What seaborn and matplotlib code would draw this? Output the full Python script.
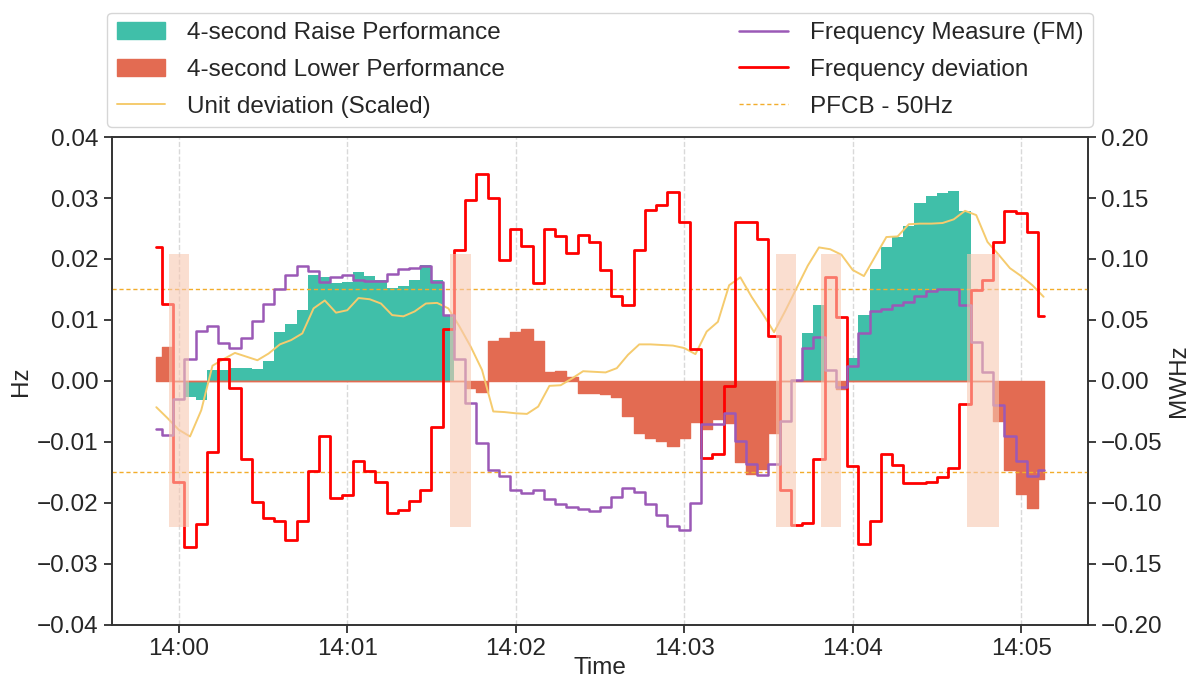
import numpy as np
import pandas as pd
import matplotlib
matplotlib.use("Agg")
import matplotlib.pyplot as plt
import matplotlib.dates as mdates
from matplotlib.patches import Patch
from matplotlib.lines import Line2D
import seaborn as sns

# 4 second samples from 13:59:52 to 14:05:08
times = pd.date_range("2024-01-01 13:59:52", periods=80, freq="4s")

# frequency deviation (Hz)
freq_dev = [0.0219, 0.0126, -0.0165, -0.0273, -0.0234, -0.0116, 0.0036, -0.0011, -0.0128, -0.0198,
            -0.0225, -0.0229, -0.0261, -0.0229, -0.0148, -0.0090, -0.0192, -0.0187, -0.0132, -0.0148,
            -0.0165, -0.0217, -0.0211, -0.0196, -0.0178, -0.0075, 0.0086, 0.0214, 0.0296, 0.0340,
            0.0300, 0.0199, 0.0250, 0.0221, 0.0161, 0.0250, 0.0238, 0.0210, 0.0239, 0.0228,
            0.0182, 0.0139, 0.0125, 0.0214, 0.0280, 0.0289, 0.0310, 0.0261, 0.0052, -0.0126,
            -0.0120, -0.0008, 0.0260, 0.0260, 0.0232, 0.0073, -0.0178, -0.0236, -0.0233, -0.0128,
            0.0170, 0.0105, -0.0139, -0.0267, -0.0229, -0.0120, -0.0138, -0.0167, -0.0167, -0.0165,
            -0.0158, -0.0143, -0.0037, 0.0149, 0.0166, 0.0228, 0.0279, 0.0276, 0.0245, 0.0107]

# frequency measure (MWHz)
fm = [-0.039, -0.044, -0.015, 0.018, 0.041, 0.045, 0.031, 0.027, 0.035, 0.049,
      0.063, 0.075, 0.087, 0.094, 0.090, 0.081, 0.085, 0.087, 0.083, 0.082,
      0.082, 0.088, 0.092, 0.093, 0.094, 0.081, 0.054, 0.018, -0.018, -0.051,
      -0.073, -0.078, -0.089, -0.092, -0.089, -0.097, -0.101, -0.103, -0.105, -0.107,
      -0.103, -0.095, -0.088, -0.091, -0.101, -0.110, -0.119, -0.122, -0.100, -0.035,
      -0.035, -0.026, -0.049, -0.068, -0.077, -0.068, -0.033, 0.001, 0.027, 0.036,
      0.009, -0.005, 0.012, 0.039, 0.057, 0.059, 0.062, 0.065, 0.070, 0.074,
      0.075, 0.075, 0.062, 0.032, 0.007, -0.020, -0.045, -0.066, -0.078, -0.073]

# unit deviation, scaled to Hz
unit_dev = [-0.0043, -0.0061, -0.0080, -0.0091, -0.0048, 0.0025, 0.0036, 0.0046, 0.0040, 0.0034,
            0.0045, 0.0060, 0.0067, 0.0078, 0.0119, 0.0132, 0.0112, 0.0116, 0.0136, 0.0134,
            0.0127, 0.0108, 0.0106, 0.0114, 0.0127, 0.0128, 0.0119, 0.0089, 0.0056, 0.0018,
            -0.0050, -0.0051, -0.0053, -0.0054, -0.0042, -0.0008, -0.0007, 0.0004, 0.0016, 0.0015,
            0.0014, 0.0021, 0.0043, 0.0060, 0.0060, 0.0059, 0.0058, 0.0054, 0.0044, 0.0081,
            0.0097, 0.0157, 0.0170, 0.0138, 0.0110, 0.0080, 0.0115, 0.0152, 0.0189, 0.0219,
            0.0216, 0.0207, 0.0182, 0.0172, 0.0204, 0.0236, 0.0237, 0.0257, 0.0258, 0.0258,
            0.0259, 0.0265, 0.0279, 0.0272, 0.0228, 0.0207, 0.0185, 0.0172, 0.0157, 0.0138]

raise_perf = [0, 0, 0, -0.0026, -0.0031, 0.0018, 0.0018, 0.0021, 0.0022, 0.0020,
              0.0032, 0.0081, 0.0093, 0.0116, 0.0173, 0.0170, 0.0161, 0.0162, 0.0178, 0.0172,
              0.0166, 0.0152, 0.0156, 0.0166, 0.0190, 0.0166, 0.0108, 0, 0, 0,
              0, 0, 0, 0, 0, 0, 0, 0, 0, 0,
              0, 0, 0, 0, 0, 0, 0, 0, 0, 0,
              0, 0, 0, 0, 0, 0, 0, 0, 0.0079, 0.0125,
              0, 0, 0.0037, 0.0108, 0.0183, 0.0220, 0.0236, 0.0254, 0.0291, 0.0303,
              0.0309, 0.0312, 0.0279, 0, 0, 0, 0, 0, 0, 0]

lower_perf = [0.0040, 0.0055, 0, 0, 0, 0, 0, 0, 0, 0,
              0, 0, 0, 0, 0, 0, 0, 0, 0, 0,
              0, 0, 0, 0, 0, 0, 0, 0, -0.0011, -0.0018,
              0.0066, 0.0070, 0.0081, 0.0086, 0.0066, 0.0015, 0.0017, 0.0007, -0.0020, -0.0020,
              -0.0022, -0.0026, -0.0058, -0.0086, -0.0094, -0.0099, -0.0107, -0.0094, -0.0067, -0.0078,
              -0.0062, -0.0069, -0.0133, -0.0152, -0.0145, -0.0086, 0, 0, 0, 0,
              0, -0.0013, 0, 0, 0, 0, 0, 0, 0, 0,
              0, 0, 0, 0, 0, -0.0066, -0.0146, -0.0186, -0.0209, -0.0160]

pfcb = 0.015  # Hz
event_spans = [("13:59:56.6", "14:00:03.7"), ("14:01:36.7", "14:01:44.1"),
               ("14:03:32.6", "14:03:39.9"), ("14:03:48.6", "14:03:55.9"),
               ("14:04:40.7", "14:04:52.0")]

df = pd.DataFrame({"time": times, "freq_dev": freq_dev, "fm": fm, "unit_dev": unit_dev,
                   "raise": raise_perf, "lower": lower_perf})

c_raise = "#40bfa9"
c_lower = "#e36b52"
c_unit = "#f5cb6e"
c_fm = "#9b59b6"
c_freq = "#ff0000"
c_pfcb = "#f2ad2c"
c_span = "#f7c8b1"

sns.set_theme(style="ticks")
plt.rcParams["font.family"] = ["Liberation Sans", "DejaVu Sans"]
for k in ["font.size", "axes.labelsize", "xtick.labelsize", "ytick.labelsize", "legend.fontsize"]:
    plt.rcParams[k] = 17.5

fig = plt.figure(figsize=(11.91, 6.8), dpi=100)
ax1 = fig.add_axes([0.094, 0.081, 0.8195, 0.7175])

# performance bars
ax1.fill_between(df["time"], df["raise"], 0, step="mid", color=c_raise, lw=0, zorder=2)
ax1.fill_between(df["time"], df["lower"], 0, step="mid", color=c_lower, edgecolor=c_lower,
                 lw=1, zorder=2)

ax1.axhline(pfcb, color=c_pfcb, lw=1, ls=(0, (3, 2)), zorder=3)
ax1.axhline(-pfcb, color=c_pfcb, lw=1, ls=(0, (3, 2)), zorder=3)

sns.lineplot(data=df, x="time", y="unit_dev", ax=ax1, color=c_unit, lw=1.4, zorder=4)
sns.lineplot(data=df, x="time", y="freq_dev", ax=ax1, color=c_freq, lw=2.0,
             drawstyle="steps-mid", zorder=5)

ax1.set_ylim(-0.04, 0.04)
ax1.set_yticks(np.arange(-0.04, 0.0401, 0.01))
ax1.xaxis.set_major_locator(mdates.MinuteLocator())
ax1.xaxis.set_major_formatter(mdates.DateFormatter("%H:%M"))
ax1.grid(axis="x", ls="--", color="#d9d9d9", lw=1)
ax1.set_xlabel("Time", labelpad=-2)
ax1.set_ylabel("Hz")

ax2 = ax1.twinx()
sns.lineplot(data=df, x="time", y="fm", ax=ax2, color=c_fm, lw=1.8, drawstyle="steps-mid")
ax2.set_ylim(-0.20, 0.20)
ax2.set_yticks(np.arange(-0.20, 0.201, 0.05))
ax2.set_ylabel("MWHz")

# highlighted events, drawn over the lines
for s, e in event_spans:
    ax2.axvspan(pd.Timestamp("2024-01-01 " + s), pd.Timestamp("2024-01-01 " + e),
                ymin=0.2, ymax=0.76, color=c_span, alpha=0.6, lw=0, zorder=10)

ax1.set_xlim(times[0] - pd.Timedelta(seconds=15.8), times[-1] + pd.Timedelta(seconds=15.8))

for ax in (ax1, ax2):
    for sp in ax.spines.values():
        sp.set_color("#333333")
        sp.set_linewidth(1.2)

handles = [Patch(color=c_raise), Patch(color=c_lower), Line2D([], [], color=c_unit, lw=1.4),
           Line2D([], [], color=c_fm, lw=1.8), Line2D([], [], color=c_freq, lw=2.0),
           Line2D([], [], color=c_pfcb, lw=1, ls=(0, (3, 2)))]
labels = ["4-second Raise Performance", "4-second Lower Performance", "Unit deviation (Scaled)",
          "Frequency Measure (FM)", "Frequency deviation", "PFCB - 50Hz"]
leg = ax2.legend(handles, labels, loc="lower left", bbox_to_anchor=(-0.005, 1.02, 1.01, 0.2),
                 mode="expand", ncol=2, borderaxespad=0, labelspacing=0.6, handletextpad=0.9,
                 frameon=True, fancybox=True, edgecolor="#cccccc")
leg.get_frame().set_linewidth(1)

fig.savefig("out.png", dpi=100)
